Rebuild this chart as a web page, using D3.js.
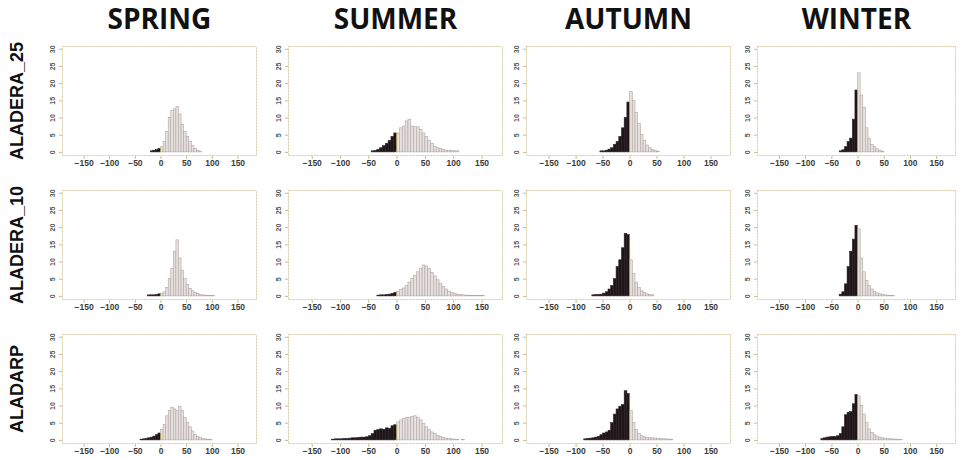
<!DOCTYPE html>
<html>
<head>
<meta charset="utf-8">
<script src="https://cdn.jsdelivr.net/npm/d3@7"></script>
<style>
  html, body { margin: 0; padding: 0; background: #fff; }
  svg { display: block; }
</style>
</head>
<body>
<svg id="chart" width="960" height="459"></svg>
<script>
// Seasonal histograms of differences (percent of cases per 5-unit bin)
const seasons = ["SPRING", "SUMMER", "AUTUMN", "WINTER"];
const sites = ["ALADERA_25", "ALADERA_10", "ALADARP"];
const xTicks = [-150, -100, -50, 0, 50, 100, 150];
const yTicks = [0, 5, 10, 15, 20, 25, 30];
const binWidth = 5;

// first bin edge of each histogram, by site (rows) and season (columns)
const binStarts = [
  [-20, -45, -55, -35],
  [-25, -35, -70, -35],
  [-40, -115, -85, -70]
];

// ALADERA_25
const a25Spring = [0.3, 0.5, 0.7, 1.0, 1.5, 3, 6, 10, 12, 12.5, 13.2, 11, 8, 6, 4.5, 3, 1.8, 1, 0.5, 0.2];
const a25Summer = [0.3, 0.4, 0.7, 1.2, 1.8, 2.5, 3.3, 4.5, 5.5, 5.5, 7, 7.5, 9, 9.5, 7.5, 7.3, 7.3, 6.5, 5.5, 4.5, 3.4, 2.4, 1.6, 1.2, 1, 0.7, 0.5, 0.4, 0.4, 0.3, 0.3];
const a25Autumn = [0.3, 0.3, 0.5, 0.8, 1.2, 2.2, 3, 4.5, 7, 10, 14.5, 17.5, 15, 11.5, 8.3, 5, 3.4, 2, 1.2, 0.7, 0.4, 0.2];
const a25Winter = [0.3, 0.6, 1.5, 3, 4, 9.5, 18, 23, 16.5, 13, 7, 4, 2.2, 1.5, 0.9, 0.5, 0.2];

// ALADERA_10
const a10Spring = [0.3, 0.3, 0.3, 0.4, 0.6, 0.8, 1.2, 2.5, 5, 8, 13, 16.3, 11, 7.5, 5, 3.3, 2.2, 1.5, 1, 0.7, 0.4, 0.3, 0.2, 0.2, 0.1, 0.1];
const a10Summer = [0.2, 0.3, 0.3, 0.4, 0.5, 0.7, 1.0, 1.3, 1.8, 2.3, 3, 4, 5, 6, 7, 8, 9, 8.7, 8, 6.8, 5.8, 4.7, 3.7, 2.8, 2, 1.4, 1, 0.7, 0.5, 0.4, 0.3, 0.2, 0.2, 0.1, 0.1, 0.1, 0.1, 0.1];
const a10Autumn = [0.3, 0.4, 0.4, 0.5, 0.8, 1.2, 2, 3, 5, 8.5, 10.5, 14, 18.2, 17.8, 10.5, 6.5, 4, 2.5, 1.5, 1, 0.6, 0.4, 0.3];
const a10Winter = [0.5, 1.2, 3.5, 8.5, 13, 16.5, 20.5, 19.5, 11, 7, 4.5, 3, 2, 1.3, 0.9, 0.6, 0.4, 0.3, 0.2, 0.1, 0.1];

// ALADARP
const arpSpring = [0.2, 0.3, 0.4, 0.6, 0.8, 1.1, 1.5, 2, 3, 4.5, 7, 8.5, 9.5, 9, 8.5, 9.8, 8.5, 6.5, 5, 3.8, 2.6, 1.6, 1, 0.7, 0.4, 0.3, 0.2, 0.1];
const arpSummer = [0.2, 0.3, 0.3, 0.3, 0.4, 0.4, 0.5, 0.6, 0.6, 0.7, 0.8, 0.8, 0.9, 1.2, 1.8, 2.8, 3, 3.2, 3.1, 3.5, 3.3, 4.1, 4.4, 5.2, 5.8, 6.3, 6.5, 6.6, 6.8, 7, 6.5, 5.8, 4.8, 3.8, 3, 2.3, 1.8, 1.3, 1, 0.7, 0.5, 0.4, 0.3, 0.2, 0.1, 0, 0.1];
const arpAutumn = [0.3, 0.4, 0.5, 0.6, 0.8, 1, 1.5, 2, 2.3, 2.8, 5, 7.5, 9, 9.8, 10.3, 14.3, 13.5, 8.5, 5, 3, 1.8, 1.2, 0.9, 0.7, 0.6, 0.6, 0.5, 0.5, 0.4, 0.3, 0.3, 0.2, 0.2];
const arpWinter = [0.4, 0.6, 0.8, 0.9, 1, 1, 1.2, 1.8, 3.8, 7.3, 8, 8.2, 10.5, 13.2, 12.8, 10, 7.5, 5, 3.2, 2.2, 1.5, 1.1, 0.8, 0.6, 0.5, 0.4, 0.3, 0.3, 0.2, 0.2, 0.1];

const panelValues = [
  [a25Spring, a25Summer, a25Autumn, a25Winter],
  [a10Spring, a10Summer, a10Autumn, a10Winter],
  [arpSpring, arpSummer, arpAutumn, arpWinter]
];

// ---- layout ----
const colExtents = [[62, 257], [288, 503], [526, 731], [757, 956]];
const rowTops = [46, 190, 334];
const boxHeight = 110;
const xDomain = [-192, 188];
const yDomain = [-1.2, 30.8];

const svg = d3.select("#chart");

// column titles
svg.selectAll("text.season")
  .data(seasons)
  .join("text")
  .attr("class", "season")
  .attr("x", (d, i) => (colExtents[i][0] + colExtents[i][1]) / 2)
  .attr("y", 29)
  .attr("text-anchor", "middle")
  .attr("font-family", "'Open Sans', 'Noto Sans', sans-serif")
  .attr("font-weight", 700)
  .attr("font-size", 28)
  .attr("fill", "#111")
  .text(d => d);

// row titles
svg.selectAll("text.site")
  .data(sites)
  .join("text")
  .attr("class", "site")
  .attr("transform", (d, i) => `translate(23,${rowTops[i] + boxHeight / 2}) rotate(-90)`)
  .attr("text-anchor", "middle")
  .attr("font-family", "'Liberation Sans', Arial, sans-serif")
  .attr("font-weight", 700)
  .attr("font-size", 18)
  .attr("fill", "#111")
  .text(d => d);

const tickFont = "'Liberation Sans', Arial, sans-serif";

sites.forEach((site, r) => {
  seasons.forEach((season, c) => {
    const [x0, x1] = colExtents[c];
    const top = rowTops[r];
    const bottom = top + boxHeight;
    const x = d3.scaleLinear().domain(xDomain).range([x0, x1]);
    const y = d3.scaleLinear().domain(yDomain).range([bottom, top]);

    const g = svg.append("g");

    // plot frame
    g.append("rect")
      .attr("x", x0 + 0.5).attr("y", top + 0.5)
      .attr("width", x1 - x0 - 1).attr("height", boxHeight - 1)
      .attr("fill", "none")
      .attr("stroke", "#d6cb9f")
      .attr("stroke-width", 1)
      .attr("stroke-dasharray", "2,1");

    const start = binStarts[r][c];
    const bins = panelValues[r][c].map((v, i) => ({
      lo: start + i * binWidth,
      hi: start + (i + 1) * binWidth,
      v
    })).filter(b => b.v > 0);

    g.selectAll("rect.bar")
      .data(bins)
      .join("rect")
      .attr("class", "bar")
      .attr("x", b => x(b.lo))
      .attr("width", b => x(b.hi) - x(b.lo))
      .attr("y", b => y(b.v))
      .attr("height", b => y(0) - y(b.v))
      .attr("fill", b => b.lo < 0 ? "#1d1518" : "#e6e0df")
      .attr("stroke", b => b.lo < 0 ? "#2e2226" : "#b1a7a6")
      .attr("stroke-width", 0.6);

    // zero line marking the split between negative and positive bins
    const lastNeg = bins.filter(b => b.lo < 0).pop();
    if (lastNeg) {
      g.append("line")
        .attr("x1", x(0)).attr("x2", x(0))
        .attr("y1", y(0)).attr("y2", y(lastNeg.v))
        .attr("stroke", "#a89a3a")
        .attr("stroke-width", 0.8);
    }

    // x axis
    const xAxis = d3.axisBottom(x).tickValues(xTicks).tickSize(3).tickPadding(1);
    const xa = g.append("g")
      .attr("transform", `translate(0,${bottom})`)
      .call(xAxis);
    xa.select(".domain").remove();
    xa.selectAll("line").attr("stroke", "#c9bd8c");
    xa.selectAll("text")
      .attr("font-family", tickFont)
      .attr("font-size", 8.5)
      .attr("font-weight", 700)
      .attr("fill", "#3a3a3a")
      .text(d => d === 0 ? "0" : d3.format("d")(d).replace("-", "\u2212"));

    // y axis, labels turned parallel to the axis
    const yAxis = d3.axisLeft(y).tickValues(yTicks).tickSize(3).tickPadding(2);
    const ya = g.append("g")
      .attr("transform", `translate(${x0},0)`)
      .call(yAxis);
    ya.select(".domain").remove();
    ya.selectAll("line").attr("stroke", "#c9bd8c");
    ya.selectAll("text")
      .attr("font-family", tickFont)
      .attr("font-size", 7)
      .attr("font-weight", 700)
      .attr("fill", "#555")
      .attr("text-anchor", "middle")
      .attr("dy", null)
      .attr("x", 0).attr("y", 0)
      .attr("dominant-baseline", "central")
      .attr("transform", "translate(-10,0) rotate(-90)");
  });
});
</script>
</body>
</html>
